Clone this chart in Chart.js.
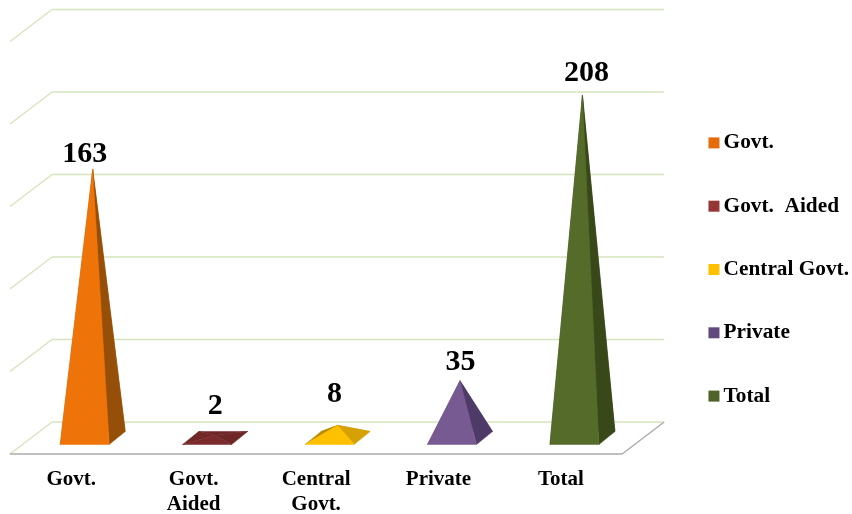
<!DOCTYPE html>
<html>
<head>
<meta charset="utf-8">
<style>html,body{margin:0;padding:0;background:#fff}canvas{display:block}</style>
<script src="https://cdn.jsdelivr.net/npm/chart.js@4/dist/chart.umd.min.js"></script>
</head>
<body>
<canvas id="c" width="852" height="514"></canvas>
<script>
const categories = [['Govt.'], ['Govt.', 'Aided'], ['Central', 'Govt.'], ['Private'], ['Total']];
const legendLabels = ['Govt.', 'Govt.  Aided', 'Central Govt.', 'Private', 'Total'];
const values = [163, 2, 8, 35, 208];
const yTickMax = 250;
const yTickStep = 50;
const legendColors = ['#E46C0A', '#953735', '#FFC000', '#604A7B', '#4F6228'];
const frontColors = ['#EE740A', '#7C2B2C', '#FFC000', '#775A92', '#556B2A'];
const sideColors = ['#964F08', '#6E2627', '#D5A103', '#4E3A66', '#384818'];
const leftColors = ['#B85A08', '#702728', '#B98C05', '#5A4475', '#3F5020'];
const labelDx = [-8, 0, -3, 0.5, 4];
const labelDy = [15, 29, 31, 19, 22];

const FONT = '"Liberation Serif", serif';
const DEPTH_X = 42, DEPTH_Y = 32;      // floor depth in projection
const HALF_W = 24.5, FOOT_DX = 8, FOOT_DY = 6.5; // pyramid footprint

function poly(ctx, pts, color) {
  ctx.beginPath();
  pts.forEach((p, i) => i ? ctx.lineTo(p[0], p[1]) : ctx.moveTo(p[0], p[1]));
  ctx.closePath();
  ctx.fillStyle = color;
  ctx.strokeStyle = color;
  ctx.lineWidth = 0.5;
  ctx.fill();
  ctx.stroke();
}
function seg(ctx, a, b, color, w) {
  ctx.beginPath();
  ctx.moveTo(a[0], a[1]);
  ctx.lineTo(b[0], b[1]);
  ctx.strokeStyle = color;
  ctx.lineWidth = w;
  ctx.stroke();
}

const pyramid3d = {
  id: 'pyramid3d',
  beforeDatasetsDraw(chart) {
    const ctx = chart.ctx, y = chart.scales.y, a = chart.chartArea;
    ctx.save();
    const GREEN = '#D6E4BC', GREY = '#ABABAB';
    y.ticks.forEach(t => {
      const py = y.getPixelForValue(t.value);
      seg(ctx, [a.left + DEPTH_X, py], [a.right + DEPTH_X, py], GREEN, 1.4);
      seg(ctx, [a.left, py + DEPTH_Y], [a.left + DEPTH_X, py], GREEN, 1.4);
    });
    const py0 = y.getPixelForValue(0);
    seg(ctx, [a.left, py0 + DEPTH_Y], [a.right, py0 + DEPTH_Y], GREY, 1.6);
    seg(ctx, [a.right, py0 + DEPTH_Y], [a.right + DEPTH_X, py0], GREY, 1.4);
    ctx.restore();
  },
  afterDatasetsDraw(chart) {
    const ctx = chart.ctx, y = chart.scales.y;
    const bars = chart.getDatasetMeta(0).data;
    ctx.save();
    bars.forEach((bar, i) => {
      const cx = bar.x + DEPTH_X / 2 + 0.5;
      const cy = y.getPixelForValue(0) + DEPTH_Y / 2;
      const apex = [cx, y.getPixelForValue(values[i]) + DEPTH_Y / 2 + 0.5];
      const fl = [cx - FOOT_DX - HALF_W, cy + FOOT_DY];
      const fr = [cx - FOOT_DX + HALF_W, cy + FOOT_DY];
      const br = [cx + FOOT_DX + HALF_W, cy - FOOT_DY];
      const bl = [cx + FOOT_DX - HALF_W, cy - FOOT_DY];
      poly(ctx, [bl, br, apex], leftColors[i]);
      poly(ctx, [fl, bl, apex], leftColors[i]);
      poly(ctx, [fr, br, apex], sideColors[i]);
      poly(ctx, [fl, fr, apex], frontColors[i]);
      ctx.font = 'bold 30px ' + FONT;
      ctx.fillStyle = '#000';
      ctx.textAlign = 'center';
      ctx.textBaseline = 'middle';
      ctx.fillText(String(values[i]), apex[0] + labelDx[i], apex[1] - labelDy[i]);
    });
    const lg = chart.legend;
    lg.legendHitBoxes.forEach((h, i) => {
      ctx.fillStyle = legendColors[i];
      ctx.fillRect(h.left - 3.5, h.top + h.height / 2 - 5.5, 11, 11);
    });
    ctx.restore();
  }
};

new Chart(document.getElementById('c'), {
  type: 'bar',
  data: {
    labels: categories,
    datasets: [{ data: values, backgroundColor: 'rgba(0,0,0,0)', borderWidth: 0 }]
  },
  plugins: [pyramid3d],
  options: {
    responsive: false,
    animation: false,
    layout: { padding: { left: 10, top: 9.5, right: -7, bottom: -15.5 } },
    scales: {
      x: {
        grid: { display: false },
        border: { display: false },
        afterFit: s => { s.height = 107.5; },
        ticks: {
          padding: 37, autoSkip: false, maxRotation: 0, color: '#000',
          font: { family: FONT, size: 21, weight: 'bold', lineHeight: 1.19 }
        }
      },
      y: {
        position: 'right',
        min: 0, max: yTickMax,
        grid: { display: false },
        border: { display: false },
        afterFit: s => { s.width = 47.8; },
        ticks: { stepSize: yTickStep, display: false }
      }
    },
    plugins: {
      tooltip: { enabled: false },
      title: { display: false },
      legend: {
        position: 'right',
        labels: {
          boxWidth: 1, boxHeight: 1, padding: 42, color: '#000',
          font: { family: FONT, size: 21.3, weight: 'bold' },
          generateLabels: () => legendLabels.map((t, i) => ({
            text: t, fillStyle: 'rgba(0,0,0,0)', strokeStyle: 'rgba(0,0,0,0)', lineWidth: 0, index: i
          }))
        }
      }
    }
  }
});
</script>
</body>
</html>
